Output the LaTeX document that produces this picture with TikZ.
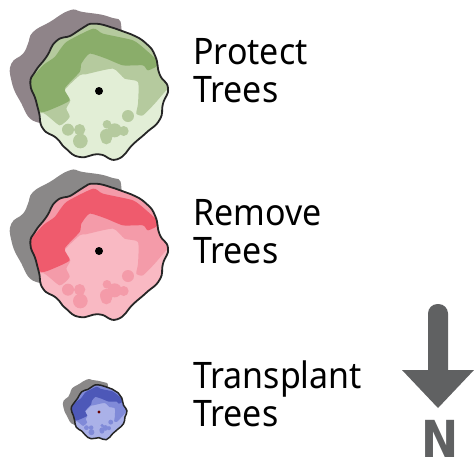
\documentclass[tikz,border=0pt]{standalone}
\usepackage{fontspec}
\setmainfont[FakeStretch=0.93]{Noto Sans}
\newfontfamily\northfont[FakeStretch=0.87]{DejaVu Sans}
\usetikzlibrary{positioning}

\definecolor{shadeA}{HTML}{8F8489}
\definecolor{shadeB}{HTML}{8A8888}
\definecolor{greenDark}{HTML}{8AAD6A}
\definecolor{greenMid}{HTML}{B5CA9E}
\definecolor{greenLight}{HTML}{E2EED6}
\definecolor{redDark}{HTML}{EF5B6D}
\definecolor{redMid}{HTML}{F49BA9}
\definecolor{redLight}{HTML}{F9B9C3}
\definecolor{blueDark}{HTML}{4D58B8}
\definecolor{blueMid}{HTML}{808AD8}
\definecolor{blueLight}{HTML}{AAB1E8}
\definecolor{arrowGray}{HTML}{606162}

\tikzset{
    canopy/.style={insert path={plot[smooth cycle, tension=.9] coordinates {(285,70) (345,84) (395,102) (440,130) (467,168) (480,222) (505,263) (490,310) (480,358) (440,397) (402,430) (352,477) (298,462) (240,470) (198,444) (170,413) (130,385) (118,337) (108,298) (92,250) (107,213) (140,170) (170,122) (215,105) (250,82)}}},
    treelabel/.style={font=\fontsize{36.5}{38}\selectfont, align=left, anchor=west, inner sep=0pt, text=black}
}

% one tree symbol: x, y, scale, shadow, dark, mid, light, outline width, dot colour
\newcommand{\treemark}[9]{
    \begin{scope}[shift={(#1,#2)}, scale=#3, shift={(-298,-272)}]
        % Shadow
        \fill[#4] plot[smooth cycle, tension=.8] coordinates {(210,30) (250,35) (330,50) (365,80) (340,200) (200,340) (110,365) (60,300) (35,240) (35,190) (70,160) (85,130) (100,95) (150,65)};
        \fill[#7, canopy];
        \begin{scope}
            \clip[canopy];
            % Middle tone
            \fill[#6] plot[smooth cycle, tension=.35] coordinates {(130,338) (180,375) (210,350) (200,325) (212,300) (195,270) (240,225) (258,222) (340,205) (375,235) (415,245) (415,310) (410,340) (430,345) (465,310) (500,270) (530,250) (520,40) (60,40) (60,340)};
            \foreach \bx/\by/\br in {385/347/18, 205/388/18, 240/388/17, 242/422/22, 320/405/19, 345/390/21, 322/372/13, 372/392/15, 320/415/17}
                \fill[#6] (\bx,\by) circle (\br);
            % Dark band
            \fill[#5] plot[smooth cycle, tension=.35] coordinates {(80,255) (130,195) (165,170) (200,125) (280,85) (310,100) (400,120) (440,150) (480,190) (445,210) (430,195) (370,195) (320,175) (270,160) (245,190) (240,215) (195,265) (210,300) (160,325) (125,335) (80,300)};
        \end{scope}
        \draw[black!85, line width=#8pt, canopy];
        \fill[#9] (298,272) circle (12);
    \end{scope}
}

\begin{document}
\begin{tikzpicture}[x=1pt, y=-1pt]
    \useasboundingbox (0,0) rectangle (474,459);

    % Trees
    \treemark{99}{91}{0.3333}{shadeA}{greenDark}{greenMid}{greenLight}{1.8}{black}
    \treemark{99}{251}{0.3333}{shadeB}{redDark}{redMid}{redLight}{1.8}{black}
    \treemark{99}{412}{0.135}{shadeB}{blueDark}{blueMid}{blueLight}{1.5}{black!60!red}

    % Labels
    \node[treelabel] (protect) at (193,71) {Protect\\Trees};
    \node[treelabel] (remove) at (193,232) {Remove\\Trees};
    \node[treelabel] (transplant) at (193,394) {Transplant\\Trees};

    % North arrow
    \fill[arrowGray] [rounded corners=9.5pt] (428,370) -- (428,304) -- (448,304) [sharp corners] -- (448,370) -- (474,370) -- (438,408) -- (402,370) -- cycle;
    \node[font=\northfont\bfseries\fontsize{51}{51}\selectfont, text=arrowGray, inner sep=0pt] (north) at (440,438.5) {N};
\end{tikzpicture}
\end{document}
